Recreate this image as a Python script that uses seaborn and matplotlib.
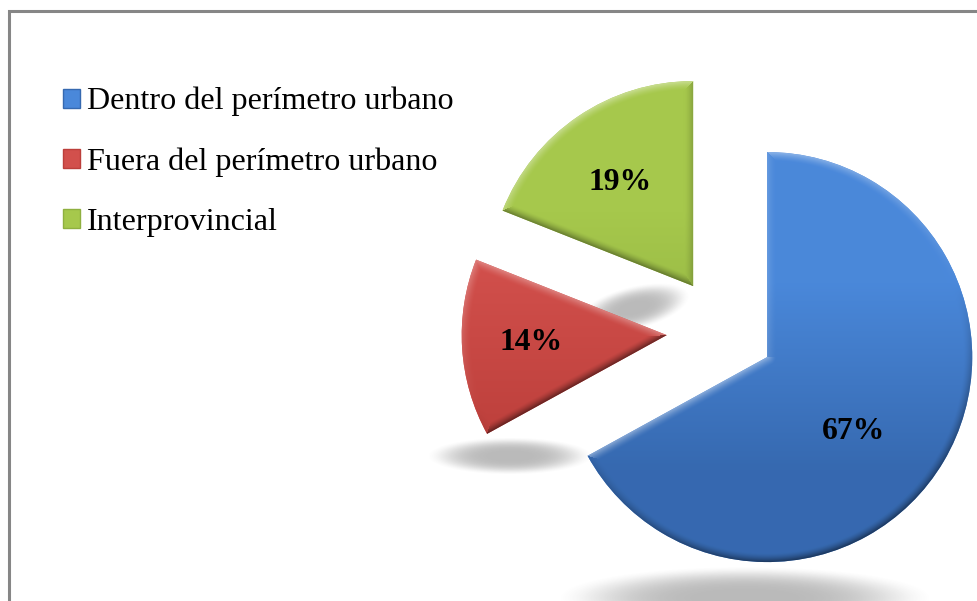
"""Exploded pie of trip share by zone, with bevelled wedges and soft shadows."""
import numpy as np
import matplotlib
matplotlib.use("Agg")
import matplotlib.pyplot as plt
import seaborn as sns

labels = ["Dentro del perímetro urbano", "Fuera del perímetro urbano", "Interprovincial"]
shares = [67, 14, 19]
explode = [0.245, 0.28, 0.268]

top_colors = ["#4A88DA", "#D2504C", "#A6C84C"]
bottom_colors = ["#3669B0", "#BC3F3B", "#8FB040"]
# label offset from each wedge tip, in pixels (x right, y up)
label_offsets = [(86, -74), (-136, -7), (-73, 104)]
# soft shadows: centre x, centre y (from top), half width, half height, tilt in degrees
shadows = [(745, 598, 190, 32, 0), (510, 456, 84, 19, 0), (634, 308, 58, 22, 14)]

W, H = 978, 601
RADIUS = 205
CENTER = (724, H - 331.5)

sns.set_theme(style="white")
plt.rcParams["font.family"] = ["Liberation Serif", "DejaVu Serif"]
palette = sns.color_palette(top_colors)

fig = plt.figure(figsize=(W / 100, H / 100), dpi=100, facecolor="white")
ax = fig.add_axes([0, 0, 1, 1])

# pie takes explode in data units, not as a fraction of the radius
wedges, _, pct = ax.pie(shares, explode=[e * RADIUS for e in explode], colors=palette,
                        startangle=90, counterclock=False, radius=RADIUS, center=CENTER,
                        frame=True, autopct="%d%%",
                        textprops={"fontsize": 22.8, "fontweight": "bold", "color": "black"})

xs, ys = np.meshgrid(np.arange(W) + 0.5, np.arange(H) + 0.5)


def shadow_layer(cx, cy, a, b, tilt):
    c, s = np.cos(np.radians(tilt)), np.sin(np.radians(tilt))
    dx, dy = xs - cx, ys - (H - cy)
    d = ((dx * c + dy * s) / a) ** 2 + ((dy * c - dx * s) / b) ** 2
    alpha = np.clip(1 - d, 0, 1)
    alpha = alpha * alpha * (3 - 2 * alpha) * 0.4
    rgba = np.zeros((H, W, 4))
    rgba[..., :3] = 0.32
    rgba[..., 3] = alpha
    return rgba


def ray_distance(px, py, ux, uy):
    along = np.maximum(px * ux + py * uy, 0)
    return np.hypot(px - along * ux, py - along * uy)


def bevel_layer(wedge, top, bottom, width=9.0):
    cx, cy = wedge.center
    r = wedge.r
    px, py = xs - cx, ys - cy
    rho = np.hypot(px, py) + 1e-6
    a1, a2 = np.radians(wedge.theta1), np.radians(wedge.theta2)
    u1, u2 = (np.cos(a1), np.sin(a1)), (np.cos(a2), np.sin(a2))

    # distance to the arc and both straight sides, with outward normals
    dists = np.stack([r - rho, ray_distance(px, py, *u1), ray_distance(px, py, *u2)])
    nx = np.stack([px / rho, np.full_like(px, u1[1]), np.full_like(px, -u2[1])])
    ny = np.stack([py / rho, np.full_like(px, -u1[0]), np.full_like(px, u2[0])])
    near = dists.argmin(axis=0)
    d = np.take_along_axis(dists, near[None], 0)[0]
    n_x = np.take_along_axis(nx, near[None], 0)[0]
    n_y = np.take_along_axis(ny, near[None], 0)[0]

    # light comes from the upper left
    light = n_x * -0.35 + n_y * 0.94
    rim = np.clip(1 - d / width, 0, 1) ** 1.5 * light

    t = np.clip((ys - (cy - r)) / (2 * r), 0, 1)[..., None]
    top_rgb = np.array(matplotlib.colors.to_rgb(top))
    bottom_rgb = np.array(matplotlib.colors.to_rgb(bottom))
    rgb = bottom_rgb + (top_rgb - bottom_rgb) * np.clip(t * 2.2 - 0.5, 0, 1)
    rim = rim[..., None]
    rgb = np.where(rim > 0, rgb + (1 - rgb) * rim * 0.4, rgb * (1 + rim * 0.5))
    return np.clip(rgb, 0, 1)


extent = (0, W, 0, H)
for s in shadows:
    ax.imshow(shadow_layer(*s), extent=extent, origin="lower", zorder=0.5,
              interpolation="bilinear")

for i, w in enumerate(wedges):
    w.set_edgecolor("none")
    img = ax.imshow(bevel_layer(w, top_colors[i], bottom_colors[i]), extent=extent,
                    origin="lower", zorder=1.5, interpolation="bilinear")
    img.set_clip_path(w)
    pct[i].set_position((w.center[0] + label_offsets[i][0], w.center[1] + label_offsets[i][1]))
    pct[i].set_zorder(3)

ax.set_xlim(0, W)
ax.set_ylim(0, H)
ax.set_aspect("equal")
ax.set_xticks([])
ax.set_yticks([])
for side in ax.spines.values():
    side.set_visible(False)

# only the top and left of the chart border fall inside the crop
ax.plot([9, 9, W], [0, H - 11, H - 11], color="#868686", lw=2.2, solid_joinstyle="miter", zorder=4)

leg = ax.legend(wedges, labels, loc="upper left", bbox_to_anchor=(63 / W, 1 - 87 / H),
                bbox_transform=ax.transAxes, frameon=False, fontsize=23.1, labelcolor="black",
                handlelength=0.53, handleheight=0.53, handletextpad=0.22, labelspacing=0.96,
                borderpad=0, borderaxespad=0)
for h, c in zip(leg.get_patches(), bottom_colors):
    h.set_edgecolor(c)
    h.set_linewidth(1.0)

fig.savefig("out.png", dpi=100)
